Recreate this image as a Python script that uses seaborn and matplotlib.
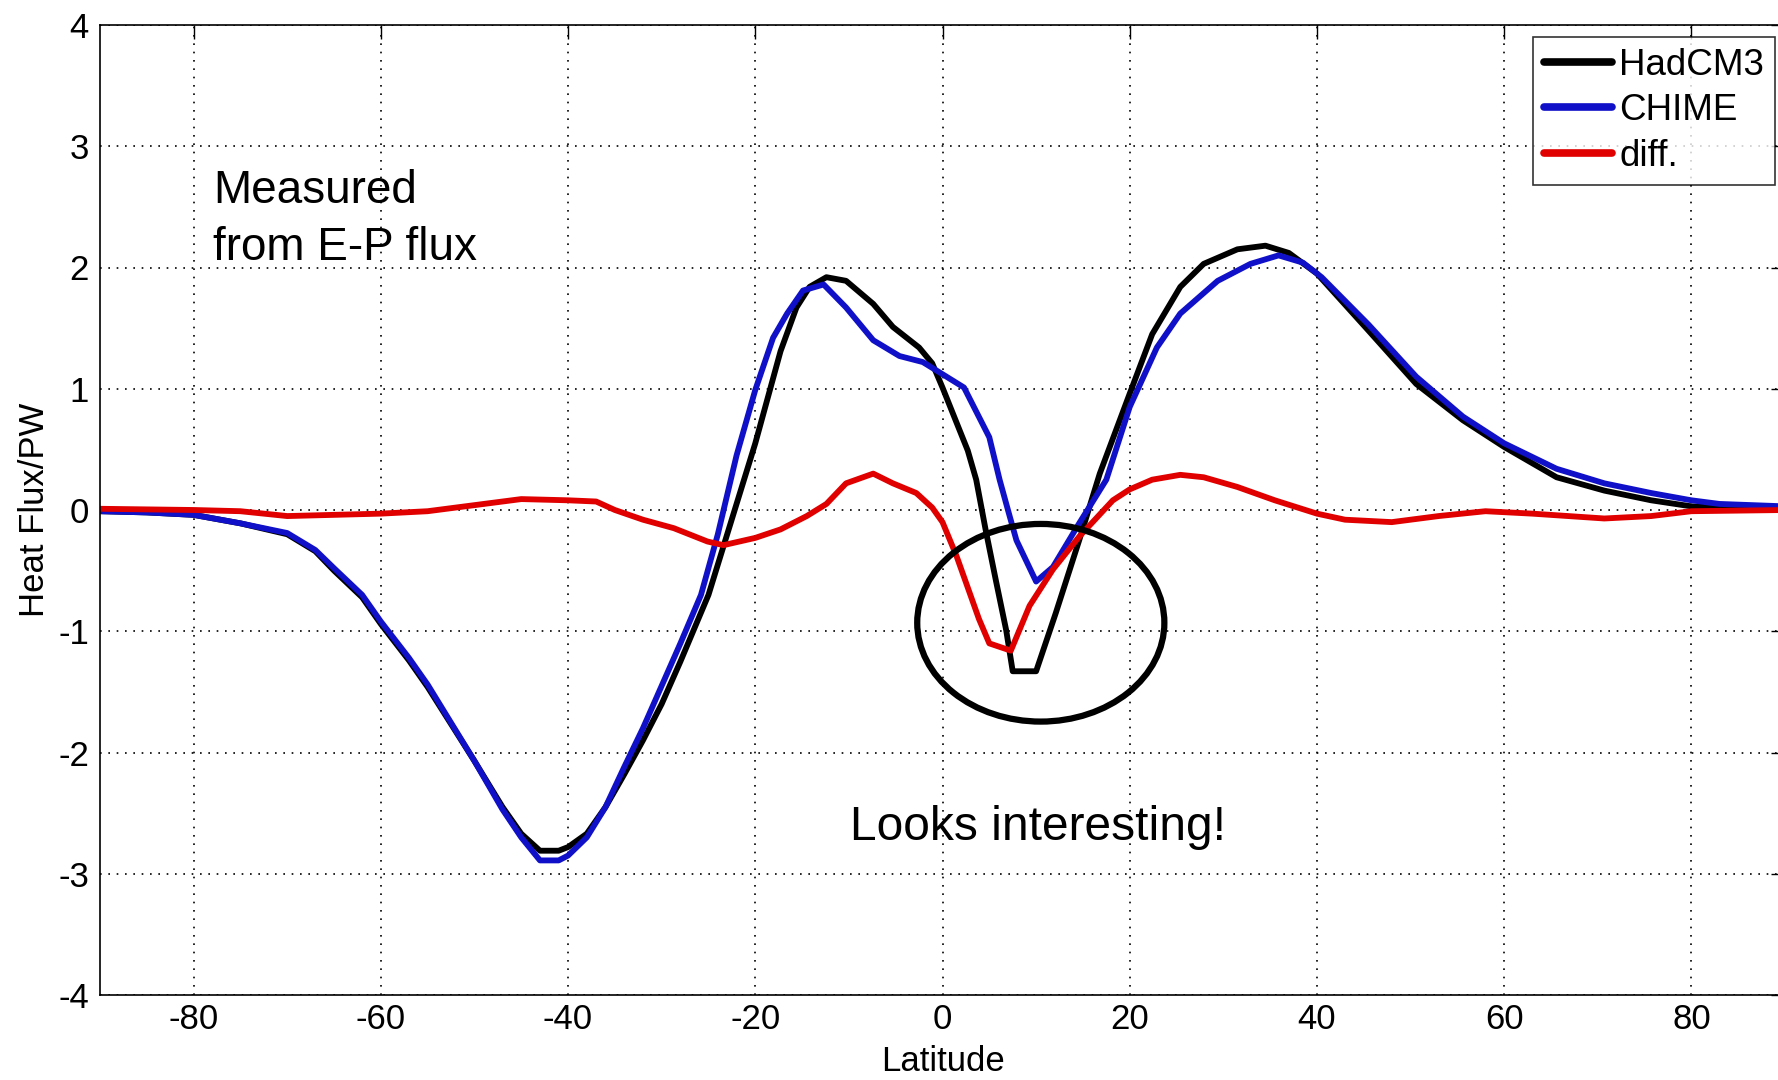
import numpy as np
import pandas as pd
import matplotlib
matplotlib.use("Agg")
import matplotlib.pyplot as plt
from matplotlib.patches import Ellipse
import seaborn as sns

# ---- data ----
had_lat = [-90, -85, -80, -75, -70, -67, -65, -62, -60, -57, -55, -50, -47, -45, -43, -41, -40,
           -38, -36, -34, -32, -30, -28, -25, -23, -20, -17.3, -15.6, -14.2, -12.4, -10.3, -7.4,
           -5.3, -2.5, -1.1, 0, 1.4, 2.7, 3.6, 4.6, 5.7, 6.8, 7.5, 10, 12.1, 14.6, 16.8, 20, 22.4,
           25.4, 27.9, 31.5, 34.5, 37, 40, 45.5, 50.6, 55.6, 60, 65.6, 70.7, 75.7, 80, 83, 90]
had_val = [-0.01, -0.02, -0.04, -0.11, -0.2, -0.34, -0.5, -0.72, -0.94, -1.24, -1.46, -2.07,
           -2.45, -2.67, -2.81, -2.81, -2.78, -2.67, -2.45, -2.18, -1.9, -1.6, -1.25, -0.7,
           -0.2, 0.55, 1.31, 1.67, 1.84, 1.92, 1.89, 1.70, 1.51, 1.34, 1.21, 1.01, 0.74, 0.49,
           0.25, -0.16, -0.58, -0.99, -1.33, -1.33, -0.85, -0.25, 0.3, 0.96, 1.45, 1.84, 2.03,
           2.15, 2.18, 2.12, 1.95, 1.48, 1.04, 0.74, 0.52, 0.27, 0.16, 0.08, 0.03, 0.02, 0.01]

chime_lat = [-90, -85, -80, -75, -70, -67, -65, -62, -60, -57, -55, -50, -47, -45, -43, -41, -40,
             -38, -36, -34, -32, -30, -28, -25.8, -24, -22, -20, -18.1, -16.6, -14.9, -12.7,
             -10.3, -7.4, -4.6, -2.1, 0, 2.3, 5, 6.1, 7.1, 7.9, 10, 11.8, 14.6, 17.5, 20, 22.9,
             25.4, 29.4, 32.9, 35.9, 38.5, 40.5, 45.5, 50.6, 55.6, 60, 65.6, 70.7, 75.7, 80, 83,
             90]
chime_val = [-0.01, -0.02, -0.04, -0.11, -0.19, -0.33, -0.48, -0.7, -0.92, -1.22, -1.44, -2.07,
             -2.47, -2.7, -2.89, -2.89, -2.85, -2.7, -2.45, -2.12, -1.8, -1.45, -1.1, -0.7,
             -0.2, 0.45, 0.99, 1.42, 1.62, 1.81, 1.86, 1.67, 1.40, 1.27, 1.22, 1.12, 1.01, 0.6,
             0.25, -0.03, -0.25, -0.59, -0.47, -0.11, 0.25, 0.85, 1.34, 1.62, 1.89, 2.03, 2.10,
             2.04, 1.92, 1.53, 1.10, 0.77, 0.55, 0.34, 0.22, 0.14, 0.08, 0.05, 0.03]

diff_lat = [-90, -80, -75, -70, -65, -60, -55, -50, -45, -40, -37, -35, -32, -28.7, -25.1, -23.4,
            -20, -17.3, -14.5, -12.4, -10.3, -7.4, -5.3, -2.8, -1.1, 0, 1.5, 3.9, 5, 7.3, 9.3,
            11.8, 14.6, 18.2, 20, 22.4, 25.4, 27.9, 31.5, 35.5, 40, 43, 48, 53, 58, 63, 70.7,
            75.7, 80, 90]
diff_val = [0.01, 0.0, -0.01, -0.05, -0.04, -0.03, -0.01, 0.04, 0.09, 0.08, 0.07, 0.0, -0.08,
            -0.15, -0.26, -0.29, -0.23, -0.16, -0.05, 0.05, 0.22, 0.30, 0.22, 0.14, 0.02, -0.1,
            -0.38, -0.9, -1.1, -1.16, -0.79, -0.49, -0.22, 0.08, 0.17, 0.25, 0.29, 0.27, 0.19,
            0.08, -0.03, -0.08, -0.10, -0.05, -0.01, -0.03, -0.07, -0.05, -0.01, 0.0]

series_names = ["HadCM3", "CHIME", "diff."]
series_colors = ["#000000", "#1010c8", "#e00000"]

x_ticks = [-80, -60, -40, -20, 0, 20, 40, 60, 80]
y_ticks = [-4, -3, -2, -1, 0, 1, 2, 3, 4]

df = pd.concat([
    pd.DataFrame({"Latitude": had_lat, "Flux": had_val, "Model": "HadCM3"}),
    pd.DataFrame({"Latitude": chime_lat, "Flux": chime_val, "Model": "CHIME"}),
    pd.DataFrame({"Latitude": diff_lat, "Flux": diff_val, "Model": "diff."}),
], ignore_index=True)

sns.set_style("white")
plt.rcParams['font.family'] = ['Liberation Sans', 'DejaVu Sans']
plt.rcParams['axes.unicode_minus'] = False
plt.rcParams['text.color'] = 'black'
plt.rcParams['axes.labelcolor'] = 'black'
plt.rcParams['xtick.color'] = 'black'
plt.rcParams['ytick.color'] = 'black'

fig = plt.figure(figsize=(17.78, 10.8), dpi=100)
ax = fig.add_axes([100 / 1778, 1 - 995 / 1080, (1785 - 100) / 1778, (995 - 25) / 1080])

sns.lineplot(data=df, x="Latitude", y="Flux", hue="Model", hue_order=series_names,
             palette=dict(zip(series_names, series_colors)), linewidth=4.2, ax=ax,
             estimator=None, sort=True)

ax.set_xlim(-90, 90)
ax.set_ylim(-4, 4)
ax.set_xticks(x_ticks)
ax.set_yticks(y_ticks)
ax.grid(True, color="black", linestyle=(0, (1, 4)), linewidth=1.2)
ax.tick_params(direction="in", length=10, width=1, top=True, right=True, labelsize=25)
ax.tick_params(axis="x", pad=6)
ax.tick_params(axis="y", pad=8)
for s in ax.spines.values():
    s.set_color("black")
    s.set_linewidth(1.2)
ax.set_xlabel("Latitude", fontsize=25)
ax.set_ylabel("Heat Flux/PW", fontsize=25)
ax.xaxis.set_label_coords(0.5, -0.052)
ax.yaxis.set_label_coords(-0.029, 0.5)

ax.add_patch(Ellipse((10.5, -0.93), 26.4, 1.63, fill=False, edgecolor="black", linewidth=4.5,
                     zorder=5))

ax.text(-77.9, 2.53, "Measured", fontsize=33, va="baseline", ha="left")
ax.text(-77.9, 2.06, "from E-P flux", fontsize=33, va="baseline", ha="left")
ax.text(-9.9, -2.72, "Looks interesting!", fontsize=34.5, va="baseline", ha="left")

leg = ax.legend(loc="upper right", bbox_to_anchor=(1 - 10 / 1685, 1 - 12 / 970), fontsize=26.5,
                frameon=True, fancybox=False, edgecolor="black", handlelength=1.85,
                handletextpad=0.2, borderpad=0.3, labelspacing=0.28, borderaxespad=0)
leg.get_frame().set_linewidth(1.2)
for line in leg.get_lines():
    line.set_linewidth(5.5)

fig.savefig("out.png", dpi=100)
